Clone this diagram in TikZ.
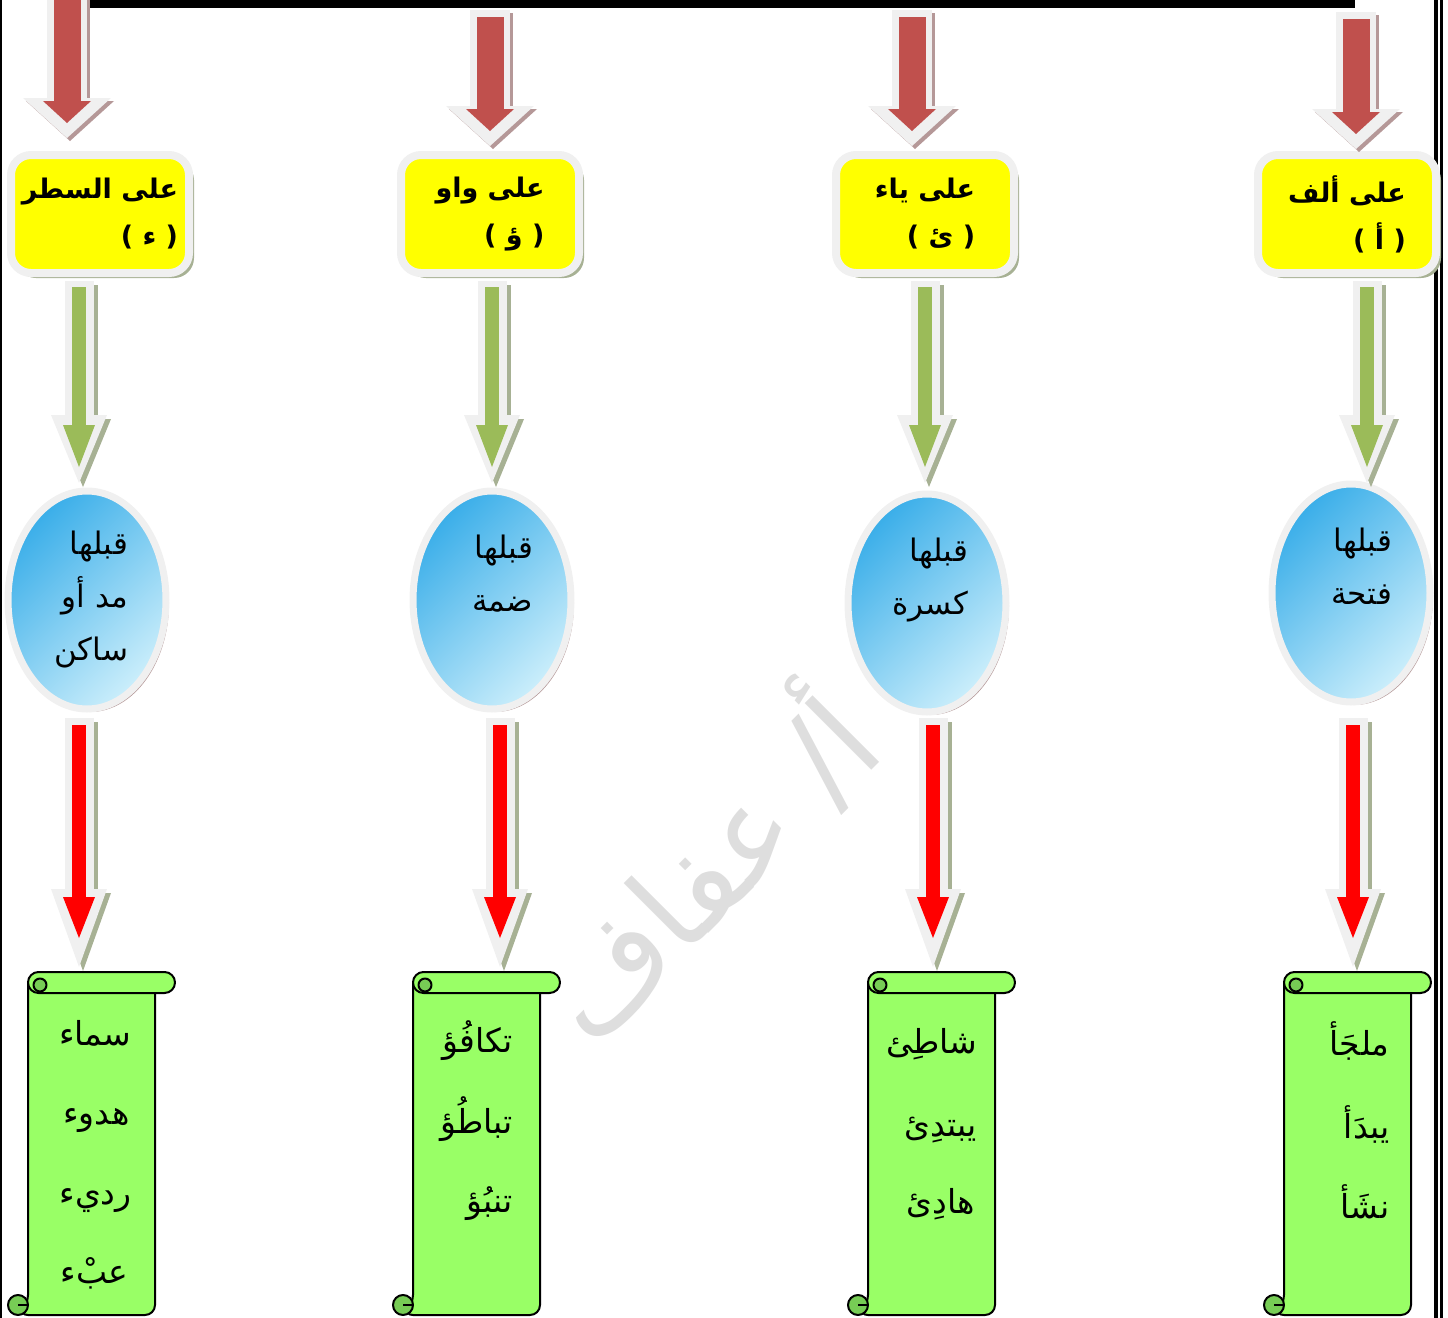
\documentclass[tikz,border=0pt]{standalone}
\usepackage{fontspec}
\newfontfamily\arabicfont[Script=Arabic]{DejaVu Sans}
\TeXXeTstate=1
\usetikzlibrary{arrows.meta,shapes.geometric,shadows,calc}

\definecolor{glowgray}{HTML}{F0F0F0}
\definecolor{topred}{HTML}{C0504D}
\definecolor{redshadow}{HTML}{B59898}
\definecolor{greenshadow}{HTML}{A7B194}
\definecolor{arrgreen}{HTML}{9BBB59}
\definecolor{boxyellow}{HTML}{FFFF00}
\definecolor{ellblue}{HTML}{3AAEE9}
\definecolor{elllight}{HTML}{CBEEFB}
\definecolor{ellshadow}{HTML}{B59A9A}
\definecolor{scrollgreen}{HTML}{99FF66}
\definecolor{curlgreen}{HTML}{77CC55}
\definecolor{markgray}{HTML}{DEDEDE}

\tikzset{
  headbox/.style={rectangle, rounded corners=10pt, fill=boxyellow, draw=glowgray,
    line width=4pt, minimum width=89pt, minimum height=59pt, outer sep=0pt,
    align=right, inner sep=0pt,
    font=\arabicfont\bfseries\fontsize{13.5}{23.5}\selectfont,
    drop shadow={shadow xshift=2.5pt, shadow yshift=-2.5pt, fill=greenshadow, opacity=1}},
  ellnode/.style={ellipse, minimum width=79pt, minimum height=109pt, outer sep=0pt,
    draw=glowgray, line width=3.5pt, top color=ellblue, bottom color=elllight,
    shading angle=45, text width=41pt, align=right, inner sep=0pt,
    font=\arabicfont\fontsize{15.5}{26.5}\selectfont,
    drop shadow={shadow xshift=1.5pt, shadow yshift=-1.5pt, fill=ellshadow, opacity=1}},
  scrolltext/.style={anchor=base east, inner sep=0pt, font=\arabicfont\fontsize{16.5}{20}\selectfont},
  scrollline/.style={draw=black, line width=1pt, line join=round},
  watermark/.style={rotate=45, text=markgray, inner sep=0pt,
    font=\arabicfont\fontsize{62}{62}\selectfont},
  toparrow/.style={draw=topred, line width=13.5pt, shorten <=3.5pt, shorten >=7.5pt,
    -{Triangle[length=11pt,width=24pt,line width=0pt]},
    preaction={draw=redshadow, line width=20pt, shorten <=0pt, shorten >=0pt,
      -{Triangle[length=20pt,width=44pt,line width=0pt]},
      transform canvas={shift={(1.5pt,-1.5pt)}}},
    preaction={draw=glowgray, line width=20pt, shorten <=0pt, shorten >=0pt,
      -{Triangle[length=20pt,width=44pt,line width=0pt]}}},
  greenarrow/.style={draw=arrgreen, line width=7pt, shorten <=3pt, shorten >=8pt,
    -{Triangle[length=21pt,width=16pt,line width=0pt]},
    preaction={draw=greenshadow, line width=14.5pt, shorten <=0pt, shorten >=0pt,
      -{Triangle[length=34pt,width=28pt,line width=0pt]},
      transform canvas={shift={(2pt,-2pt)}}},
    preaction={draw=glowgray, line width=14.5pt, shorten <=0pt, shorten >=0pt,
      -{Triangle[length=34pt,width=28pt,line width=0pt]}}},
  redarrow/.style={draw=red, line width=7pt, shorten <=3.5pt, shorten >=14.5pt,
    -{Triangle[length=20.5pt,width=16pt,line width=0pt]},
    preaction={draw=greenshadow, line width=14.5pt, shorten <=0pt, shorten >=0pt,
      -{Triangle[length=39pt,width=28pt,line width=0pt]},
      transform canvas={shift={(2pt,-2pt)}}},
    preaction={draw=glowgray, line width=14.5pt, shorten <=0pt, shorten >=0pt,
      -{Triangle[length=39pt,width=28pt,line width=0pt]}}}
}

% scroll: #1 = left edge of its body, #2 = name of its top point
\newcommand{\scrollat}[2]{%
  \begin{scope}[shift={(#1,972)}]
    \draw[scrollline, fill=scrollgreen, rounded corners=5pt]
      (0,10) -- (0,333) -- (-10,343) -- (127,343) -- (127,21);
    \draw[scrollline, fill=curlgreen] (-10,333) circle (10);
    \draw[scrollline] (0,333) -- (-10,333);
    \draw[scrollline, fill=scrollgreen, rounded corners=5.25pt] (0,0) rectangle (147,21);
    \draw[scrollline, fill=curlgreen] (12,13) circle (6.5);
    \coordinate (#2) at (63.5,0);
  \end{scope}}

\begin{document}
\begin{tikzpicture}[x=0.5pt,y=-0.5pt]
  \useasboundingbox (0,0) rectangle (1448,1318);
  % frame and top bar
  \draw[line width=1pt] (1,0) -- (1,1318);
  \fill (1434,0) rectangle (1438,1318);
  \fill (1440,0) rectangle (1443,1318);
  \fill (88,0) rectangle (1355,8);

  \node[watermark] (mark) at (700,862) {\beginR أ\hbox{/} عفاف\endR};

  % yellow boxes
  \node[headbox] (b1) at (100,214) {\beginR على السطر\endR\\\beginR ( ء )\endR};
  \node[headbox] (b2) at (490,214) {\beginR على واو\endR\\\beginR ( ؤ )\endR};
  \node[headbox] (b3) at (925,214) {\beginR على ياء\endR\\\beginR ( ئ )\endR};
  \node[headbox] (b4) at (1347,214) {\beginR على ألف\endR\\\beginR ( أ )\endR};

  % ellipses
  \node[ellnode] (e1) at (87,600) {\beginR قبلها\endR\\\beginR مد أو\endR\\\beginR ساكن\endR};
  \node[ellnode] (e2) at (492,600) {\beginR قبلها\endR\\\beginR ضمة\endR\\\mbox{}};
  \node[ellnode] (e3) at (927,603) {\beginR قبلها\endR\\\beginR كسرة\endR\\\mbox{}};
  \node[ellnode] (e4) at (1351,593) {\beginR قبلها\endR\\\beginR فتحة\endR\\\mbox{}};

  % scrolls
  \scrollat{28}{s1}
  \scrollat{413}{s2}
  \scrollat{868}{s3}
  \scrollat{1284}{s4}

  \node[scrolltext] (w11) at (132,1045) {\beginR سماء\endR};
  \node[scrolltext] (w12) at (130,1124) {\beginR هدوء\endR};
  \node[scrolltext] (w13) at (132,1204) {\beginR رديء\endR};
  \node[scrolltext] (w14) at (129,1283) {\beginR عبْء\endR};

  \node[scrolltext] (w21) at (513,1052) {\beginR تكافُؤ\endR};
  \node[scrolltext] (w22) at (513,1133) {\beginR تباطُؤ\endR};
  \node[scrolltext] (w23) at (513,1212) {\beginR تنبُؤ\endR};

  \node[scrolltext] (w31) at (978,1053) {\beginR شاطِئ\endR};
  \node[scrolltext] (w32) at (977,1136) {\beginR يبتدِئ\endR};
  \node[scrolltext] (w33) at (975,1213) {\beginR هادِئ\endR};

  \node[scrolltext] (w41) at (1390,1055) {\beginR ملجَأ\endR};
  \node[scrolltext] (w42) at (1390,1138) {\beginR يبدَأ\endR};
  \node[scrolltext] (w43) at (1390,1218) {\beginR نشَأ\endR};

  % arrows from the top bar
  \coordinate (t1) at (67,-10);
  \coordinate (t2) at (490,10);
  \coordinate (t3) at (912,10);
  \coordinate (t4) at (1356,12);
  \draw[toparrow] (t1) -- ($(t1 |- b1.north)+(0,-17)$);
  \draw[toparrow] (t2) -- ($(t2 |- b2.north)+(0,-9)$);
  \draw[toparrow] (t3) -- ($(t3 |- b3.north)+(0,-9)$);
  \draw[toparrow] (t4) -- ($(t4 |- b4.north)+(0,-6)$);

  % boxes to ellipses
  \draw[greenarrow] ($(b1.south)+(-21,8)$) -- ($(b1.south |- e1.north)+(-21,-8)$);
  \draw[greenarrow] ($(b2.south)+(2,8)$) -- ($(b2.south |- e2.north)+(2,-8)$);
  \draw[greenarrow] ($(b3.south)+(0,8)$) -- ($(b3.south |- e3.north)+(0,-11)$);
  \draw[greenarrow] ($(b4.south)+(20,8)$) -- ($(b4.south |- e4.north)+(20,-1)$);

  % ellipses to scrolls
  \draw[redarrow] ($(e1.south)+(-8,9)$) -- ($(e1.south |- s1)+(-8,-5)$);
  \draw[redarrow] ($(e2.south)+(8,9)$) -- ($(e2.south |- s2)+(8,-5)$);
  \draw[redarrow] ($(e3.south)+(6,6)$) -- ($(e3.south |- s3)+(6,-5)$);
  \draw[redarrow] ($(e4.south)+(2,16)$) -- ($(e4.south |- s4)+(2,-5)$);
\end{tikzpicture}
\end{document}
